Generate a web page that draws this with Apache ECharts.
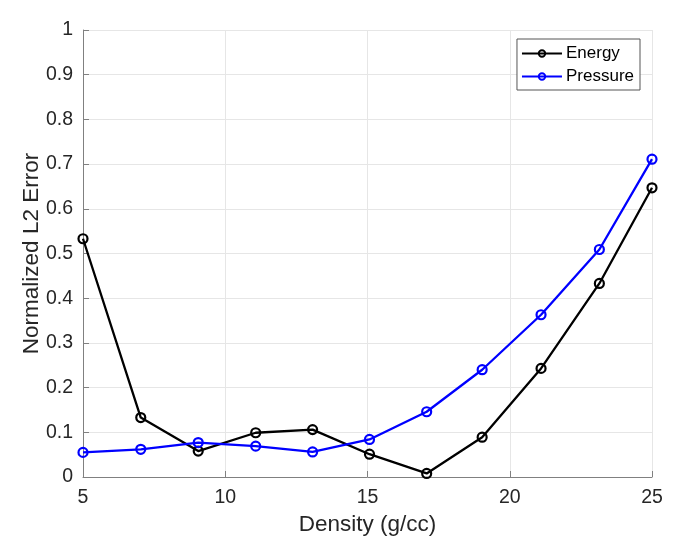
<!DOCTYPE html>
<html><head><meta charset="utf-8">
<script src="https://cdn.jsdelivr.net/npm/echarts@6/dist/echarts.min.js"></script>
<style>html,body{margin:0;padding:0;background:#fff}#c{width:698px;height:546px}</style>
</head><body><div id="c"></div>
<script>
const density = [5, 7.03, 9.05, 11.07, 13.07, 15.07, 17.08, 19.03, 21.1, 23.15, 25];
const energy = [0.533, 0.133, 0.058, 0.099, 0.106, 0.051, 0.008, 0.089, 0.243, 0.433, 0.647];
const pressure = [0.055, 0.062, 0.077, 0.069, 0.056, 0.084, 0.146, 0.240, 0.363, 0.509, 0.711];
const xTicks = [5, 10, 15, 20, 25];
const yTicks = [0, 0.1, 0.2, 0.3, 0.4, 0.5, 0.6, 0.7, 0.8, 0.9, 1];

const font = 'Liberation Sans, Arial, sans-serif';
const txt = '#262626';
function pairs(xs, ys){ return xs.map((x,i)=>[x, ys[i]]); }
const chart = echarts.init(document.getElementById('c'));
chart.setOption({
  animation: false,
  backgroundColor: '#fff',
  grid: {left: 83, right: 46, top: 30, bottom: 69, containLabel: false},
  legend: {
    right: 58, top: 39, orient: 'vertical',
    backgroundColor: '#fff', borderColor: '#555', borderWidth: 1,
    padding: [6, 6, 5, 4], itemGap: 6, itemWidth: 40, itemHeight: 8,
    textStyle: {fontFamily: font, fontSize: 17, color: '#000', padding: [0,0,0,-1]},
    data: ['Energy', 'Pressure']
  },
  xAxis: {
    type: 'value', min: 5, max: 25, interval: 5,
    name: 'Density (g/cc)', nameLocation: 'middle', nameGap: 36, nameMoveOverlap: false,
    nameTextStyle: {fontFamily: font, fontSize: 22.5, color: txt},
    axisLine: {show: true, onZero: false, lineStyle: {color: '#808080', width: 1}},
    axisTick: {show: true, inside: true, length: 6, lineStyle: {color: '#808080'}},
    axisLabel: {fontFamily: font, fontSize: 19.5, color: txt, margin: 11,
      formatter: v => xTicks.includes(v) ? String(v) : ''},
    splitLine: {show: true, lineStyle: {color: '#e6e6e6', width: 1}}
  },
  yAxis: {
    type: 'value', min: 0, max: 1, interval: 0.1,
    name: 'Normalized L2 Error', nameLocation: 'middle', nameGap: 40, nameRotate: 90, nameMoveOverlap: false,
    nameTextStyle: {fontFamily: font, fontSize: 22.5, color: txt},
    axisLine: {show: true, onZero: false, lineStyle: {color: '#808080', width: 1}},
    axisTick: {show: true, inside: true, length: 6, lineStyle: {color: '#808080'}},
    axisLabel: {fontFamily: font, fontSize: 19.5, color: txt, margin: 10,
      formatter: v => { const t = yTicks.find(k => Math.abs(k - v) < 1e-9); return t === undefined ? '' : String(t); }},
    splitLine: {show: true, lineStyle: {color: '#e6e6e6', width: 1}}
  },
  series: [
    {name: 'Energy', type: 'line', data: pairs(density, energy),
      symbol: 'circle', symbolSize: 9,
      lineStyle: {color: '#000', width: 2.3}, itemStyle: {color: 'rgba(0,0,0,0)', borderColor: '#000', borderWidth: 2.2}},
    {name: 'Pressure', type: 'line', data: pairs(density, pressure),
      symbol: 'circle', symbolSize: 9,
      lineStyle: {color: '#0000ff', width: 2.3}, itemStyle: {color: 'rgba(0,0,0,0)', borderColor: '#0000ff', borderWidth: 2.2}}
  ]
});
</script></body></html>
